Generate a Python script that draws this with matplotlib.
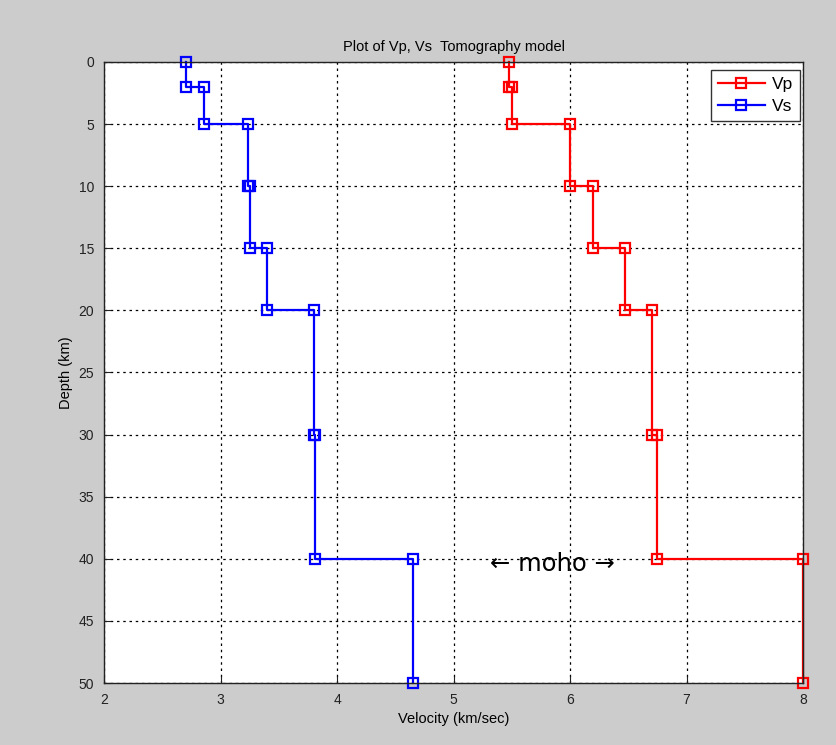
import matplotlib
matplotlib.use("Agg")
import matplotlib.pyplot as plt

# layered velocity model (top/bottom of each layer)
depth = [0, 2, 2, 5, 5, 10, 10, 15, 15, 20, 20, 30, 30, 40, 40, 50]
vp = [5.48, 5.48, 5.50, 5.50, 6.00, 6.00, 6.20, 6.20,
      6.47, 6.47, 6.70, 6.70, 6.75, 6.75, 8.00, 8.00]
vs = [2.70, 2.70, 2.86, 2.86, 3.24, 3.24, 3.25, 3.25,
      3.40, 3.40, 3.80, 3.80, 3.81, 3.81, 4.65, 4.65]

xticks = [2, 3, 4, 5, 6, 7, 8]
yticks = [0, 5, 10, 15, 20, 25, 30, 35, 40, 45, 50]

plt.rcParams['font.family'] = ['Liberation Sans', 'DejaVu Sans']

fig = plt.figure(figsize=(8.37, 7.45), dpi=100, facecolor='#cccccc')
ax = fig.add_axes([0.1243, 0.0832, 0.8351, 0.8336])
ax.set_facecolor('white')

mk = dict(marker='s', markersize=7.5, markerfacecolor='none',
          markeredgewidth=1.6, linewidth=1.6, clip_on=False)
ax.plot(vp, depth, color='#ff0000', label='Vp', **mk)
ax.plot(vs, depth, color='#0000ff', label='Vs', **mk)

ax.set_xlim(2, 8)
ax.set_ylim(50, 0)
ax.set_xticks(xticks)
ax.set_yticks(yticks)
ax.grid(True, color='black', linestyle=(0, (2, 3)), linewidth=0.9)
ax.set_axisbelow(True)
ax.tick_params(direction='in', length=5, labelsize=10, colors='#222222')
ax.tick_params(axis='y', pad=7)
ax.tick_params(axis='x', pad=7)
for s in ax.spines.values():
    s.set_linewidth(1.0)
    s.set_color('#222222')

ax.set_xlabel('Velocity (km/sec)', fontsize=10.5, labelpad=4)
ax.set_ylabel('Depth (km)', fontsize=10.5, labelpad=4)
ax.set_title('Plot of Vp, Vs  Tomography model', fontsize=10.5, pad=8)

ax.text(5.85, 40.4, '\u2190 moho \u2192', fontsize=17.5, ha='center', va='center',
        family=['DejaVu Sans'])

leg = ax.legend(loc='upper right', bbox_to_anchor=(0.9957, 0.987),
                fontsize=12.5, fancybox=False,
                edgecolor='#333333', framealpha=1, borderpad=0.4,
                handlelength=2.7, labelspacing=0.4, borderaxespad=0.0,
                handletextpad=0.4)
leg.get_frame().set_linewidth(1.0)

fig.savefig('out.png', dpi=100, facecolor=fig.get_facecolor())
